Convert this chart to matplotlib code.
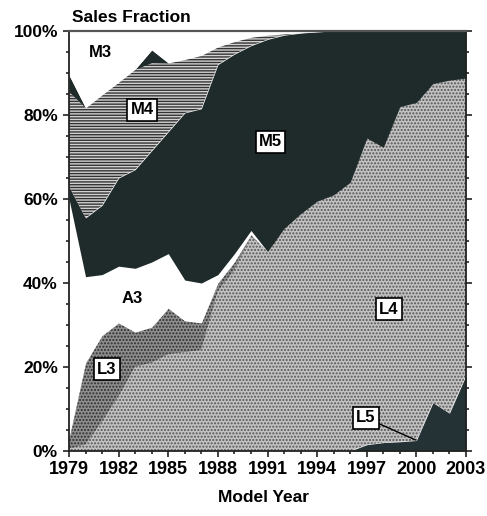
import numpy as np
import matplotlib
matplotlib.use("Agg")
import matplotlib.pyplot as plt
from matplotlib.ticker import MultipleLocator, FixedLocator, FuncFormatter

# ---- data (percent of sales) ----
years = [1979, 1980, 1981, 1982, 1983, 1984, 1985, 1986, 1987, 1988, 1989, 1990,
         1991, 1992, 1993, 1994, 1995, 1996, 1997, 1998, 1999, 2000, 2001, 2002, 2003]
year_labels = [1979, 1982, 1985, 1988, 1991, 1994, 1997, 2000, 2003]
L5 = [0, 0, 0, 0, 0, 0, 0, 0, 0, 0, 0, 0, 0, 0, 0, 0, 0, 0, 1.5, 2, 2.2, 2.5, 11.5, 9, 18]
L4 = [0.5, 1.5, 7, 13, 20, 21, 23, 23.5, 24, 38, 43, 51, 47.5, 53, 56.5, 59.5, 61, 64,
      73, 70.3, 79.8, 80.5, 76, 79.3, 70.8]
L3 = [2.5, 19.5, 20.5, 17.5, 8.3, 8.5, 11, 7.5, 6.5, 2, 2, 0.5, 0, 0, 0, 0, 0, 0, 0, 0, 0, 0, 0, 0, 0]
A3 = [57, 20.5, 14.5, 13.5, 15.2, 15.5, 13, 9.7, 9.5, 2, 2, 1, 0, 0, 0, 0, 0, 0, 0, 0, 0, 0, 0, 0, 0]
M5 = [3, 14, 16.5, 21, 23.5, 26.5, 29, 39.8, 41.5, 50, 47.5, 44, 50.5, 46, 43, 40.3, 39, 36,
      25.5, 27.7, 18, 17, 12.5, 11.7, 11.2]
M4 = [22.5, 26.2, 26.3, 22.8, 23.9, 21, 16.4, 12.7, 12.7, 4.2, 3, 2, 1, 0.3, 0.1, 0, 0, 0,
      0, 0, 0, 0, 0, 0, 0]
OTHER = [4, 0, 0, 0, 0, 3, 0, 0, 0, 0, 0, 0, 0, 0, 0, 0, 0, 0, 0, 0, 0, 0, 0, 0, 0]
M3 = [10.5, 18.3, 15.2, 12.2, 9.1, 4.5, 7.6, 6.8, 5.8, 3.8, 2.5, 1.5, 1, 0.7, 0.4, 0.2, 0, 0,
      0, 0, 0, 0, 0, 0, 0]

layers = [L5, L4, L3, A3, M5, M4, OTHER, M3]
styles = [
    dict(facecolor="#243236", edgecolor="#243236", hatch=None),
    dict(facecolor="#c2c2c2", edgecolor="#555555", hatch="....."),
    dict(facecolor="#8e8e8e", edgecolor="#2e2e2e", hatch="....."),
    dict(facecolor="white", edgecolor="white", hatch=None),
    dict(facecolor="#1f2b2a", edgecolor="#1f2b2a", hatch=None),
    dict(facecolor="#d2d2d2", edgecolor="#333333", hatch="------"),
    dict(facecolor="#1f2b2a", edgecolor="#1f2b2a", hatch=None),
    dict(facecolor="white", edgecolor="white", hatch=None),
]

plt.rcParams["font.family"] = ["Liberation Sans", "DejaVu Sans"]
plt.rcParams["hatch.linewidth"] = 1.0

fig = plt.figure(figsize=(4.87, 5.16), dpi=100)
ax = fig.add_axes([69 / 487, 1 - 451 / 516, (466 - 69) / 487, (451 - 31) / 516])

x = np.array(years, dtype=float)
base = np.zeros(len(years))
for vals, st in zip(layers, styles):
    top = base + np.array(vals, dtype=float)
    ax.fill_between(x, base, top, facecolor=st["facecolor"], edgecolor=st["edgecolor"],
                    hatch=st["hatch"], linewidth=0)
    base = top

ax.set_xlim(years[0], years[-1])
ax.set_ylim(0, 100)

ax.xaxis.set_major_locator(FixedLocator(year_labels))
ax.xaxis.set_minor_locator(FixedLocator(years))
ax.yaxis.set_major_locator(MultipleLocator(20))
ax.yaxis.set_minor_locator(MultipleLocator(5))
ax.yaxis.set_major_formatter(FuncFormatter(lambda v, p: f"{int(v)}%"))

ax.tick_params(axis="both", which="both", direction="out", width=1.2, color="#222")
ax.tick_params(axis="both", which="major", length=4)
ax.tick_params(axis="both", which="minor", length=2.5)
ax.tick_params(axis="y", which="both", right=True)
ax.tick_params(axis="x", which="major", labelsize=13, pad=3)
ax.tick_params(axis="y", which="major", labelsize=12.5, pad=4)
for lab in ax.get_xticklabels() + ax.get_yticklabels():
    lab.set_fontweight("bold")

for side in ["left", "bottom", "right"]:
    ax.spines[side].set_linewidth(1.3)
    ax.spines[side].set_color("#222")
ax.spines["top"].set_linewidth(1.6)
ax.spines["top"].set_color("#555")

fig.text(72 / 487, 1 - 17 / 516, "Sales Fraction", fontsize=12.5, fontweight="bold",
         ha="left", va="center")
fig.text(263 / 487, 1 - 497 / 516, "Model Year", fontsize=12.5, fontweight="bold",
         ha="center", va="center")

boxed = dict(boxstyle="square,pad=0.2", facecolor="white", edgecolor="black", linewidth=1.2)
lab_kw = dict(fontsize=12, fontweight="bold", ha="center", va="center")
ax.text(1980.88, 94.8, "M3", **lab_kw)
ax.text(1983.42, 81.2, "M4", bbox=boxed, **lab_kw)
ax.text(1991.18, 73.6, "M5", bbox=boxed, **lab_kw)
ax.text(1982.82, 36.4, "A3", **lab_kw)
ax.text(1981.3, 19.5, "L3", bbox=boxed, **lab_kw)
ax.text(1998.33, 33.8, "L4", bbox=boxed, **lab_kw)
ax.annotate("L5", xy=(1999.97, 2.6), xytext=(1996.94, 7.9),
            arrowprops=dict(arrowstyle="-", color="black", lw=1.0, shrinkA=0, shrinkB=0),
            bbox=boxed, **lab_kw)

fig.savefig("out.png", dpi=100)
